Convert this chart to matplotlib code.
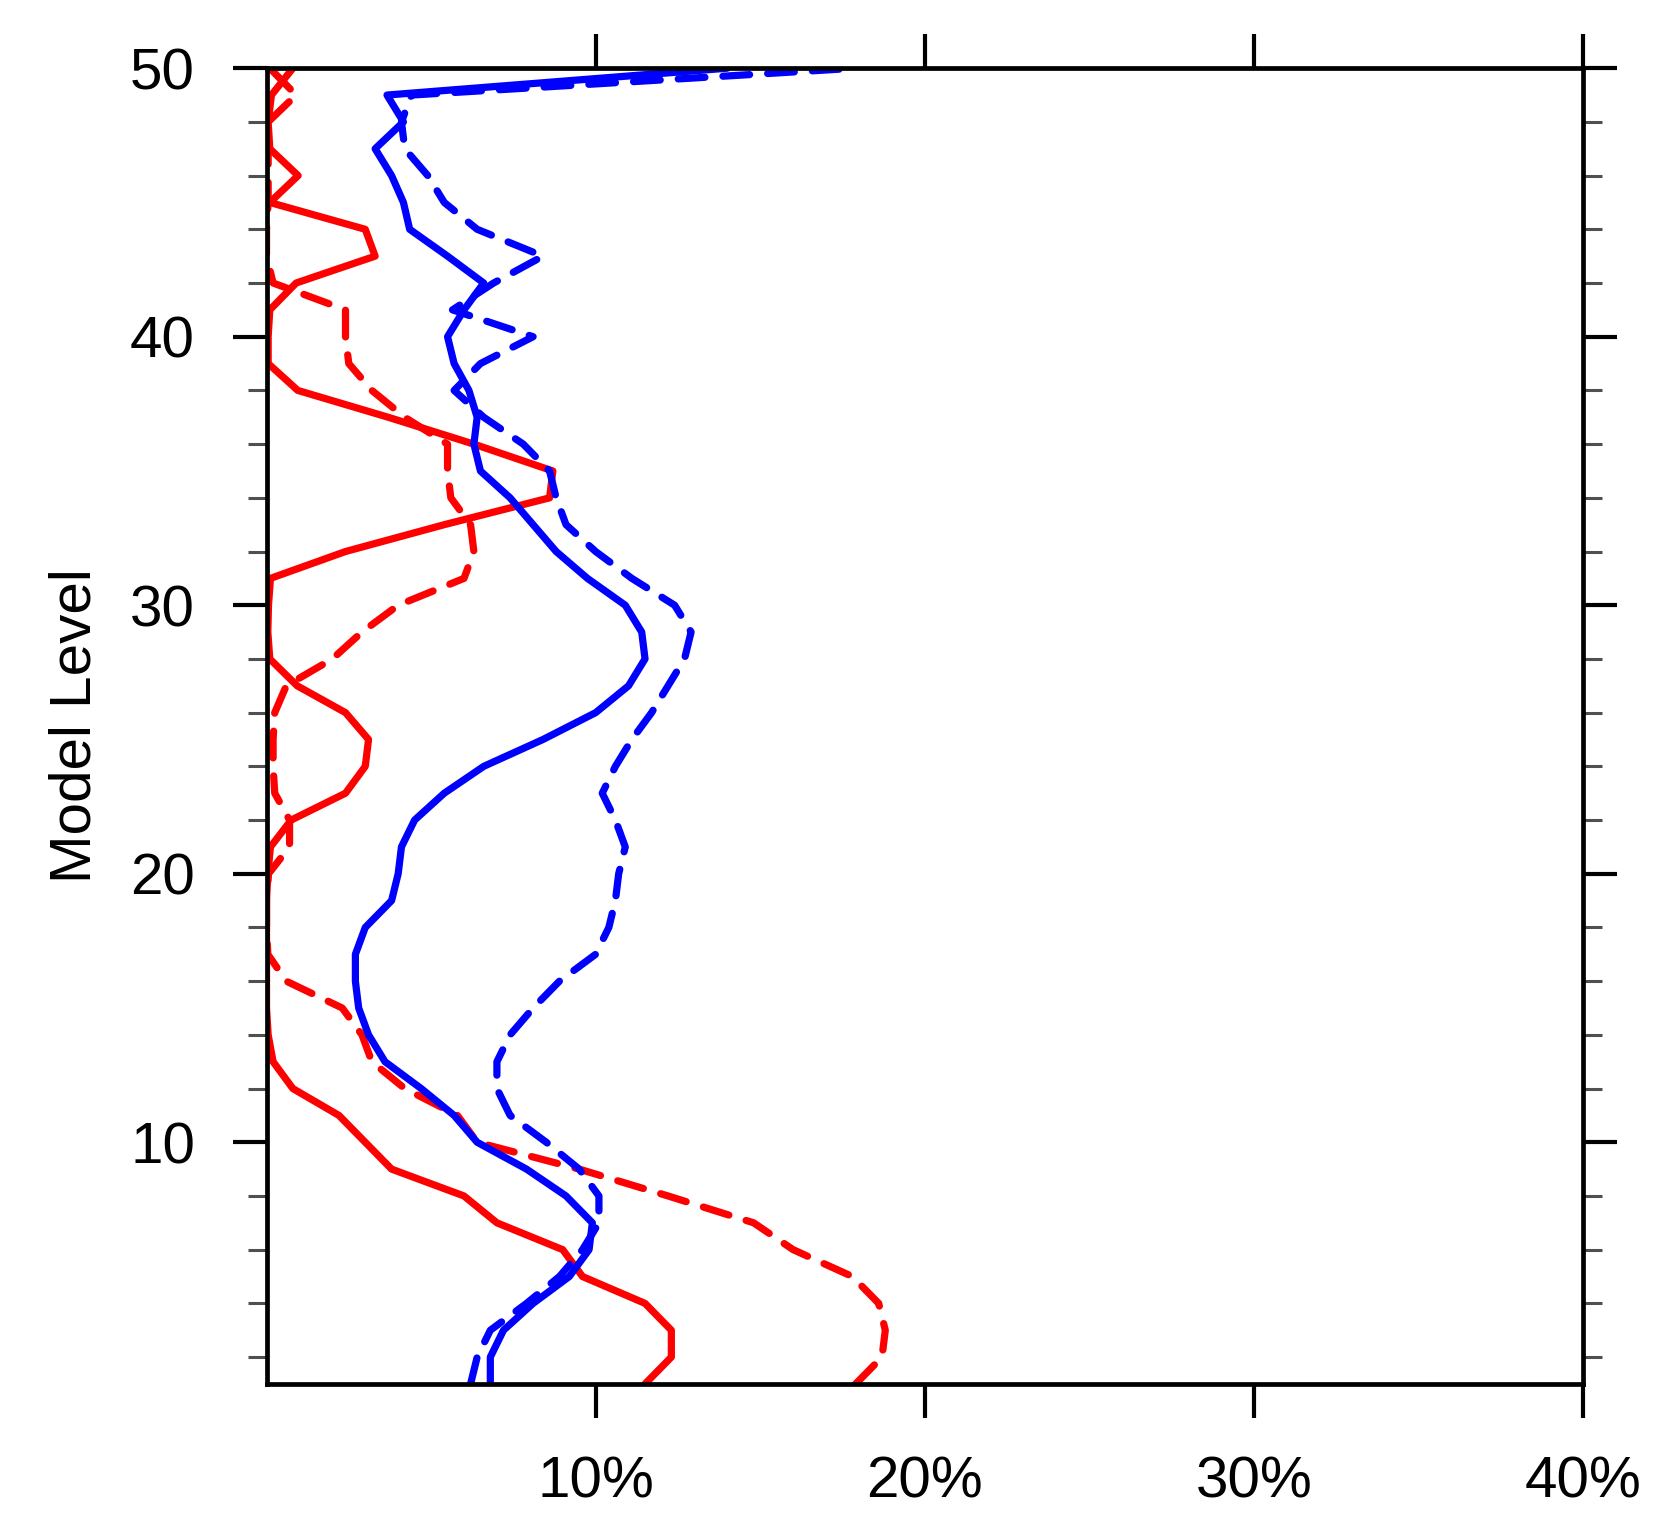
import matplotlib
matplotlib.use("Agg")
import matplotlib.pyplot as plt
import numpy as np

plt.rcParams["font.family"] = ["Liberation Sans", "DejaVu Sans"]

# model levels 1..50 (bottom to top)
levels = list(range(1, 51))

# percentages, level 1 first
red_solid = [11.5, 12.3, 12.3, 11.5, 9.6, 9.0, 7.0, 6.0, 3.8, 3.0,
             2.2, 0.8, 0.2, 0.05, 0.0, 0.0, 0.0, 0.0, 0.0, 0.04,
             0.12, 0.75, 2.4, 3.0, 3.1, 2.4, 0.93, 0.1, 0.04, 0.06,
             0.12, 2.4, 5.4, 8.6, 8.7, 6.3, 3.7, 0.95, 0.05, 0.05,
             0.1, 0.9, 3.3, 3.0, 0.1, 0.96, 0.1, 0.05, 0.15, 0.8]
red_dashed = [17.9, 18.7, 18.8, 18.6, 17.8, 16.0, 14.8, 12.2, 9.5, 6.4,
              5.8, 4.2, 3.2, 2.9, 2.3, 0.6, 0.04, 0.0, 0.0, 0.06,
              0.7, 0.7, 0.25, 0.2, 0.2, 0.25, 0.6, 2.0, 2.9, 4.0,
              6.0, 6.3, 6.2, 5.6, 5.5, 5.5, 4.2, 3.2, 2.5, 2.4,
              2.4, 0.2, 0.0, 0.0, 0.05, 0.05, 0.05, 0.05, 0.9, 0.1]
blue_solid = [6.8, 6.8, 7.2, 8.1, 9.2, 9.8, 9.9, 9.1, 7.9, 6.4,
              5.7, 4.7, 3.6, 3.1, 2.8, 2.7, 2.7, 3.0, 3.8, 4.0,
              4.1, 4.5, 5.4, 6.6, 8.4, 10.0, 11.0, 11.5, 11.4, 10.9,
              9.75, 8.8, 8.1, 7.4, 6.5, 6.3, 6.4, 6.15, 5.7, 5.5,
              6.0, 6.6, 5.5, 4.35, 4.16, 3.8, 3.3, 4.16, 3.66, 14.0]
blue_dashed = [6.2, 6.4, 6.8, 7.9, 8.9, 9.6, 10.1, 10.1, 9.5, 8.5,
               7.4, 7.0, 7.0, 7.4, 8.1, 8.9, 10.0, 10.4, 10.6, 10.7,
               10.9, 10.6, 10.2, 10.6, 11.1, 11.7, 12.2, 12.7, 12.9, 12.4,
               11.1, 10.0, 9.1, 8.8, 8.6, 7.8, 6.6, 5.7, 6.5, 8.1,
               5.65, 6.9, 8.4, 6.4, 5.4, 4.9, 4.2, 4.1, 4.4, 17.9]

x_ticks = [10, 20, 30, 40]
x_labels = ["10%", "20%", "30%", "40%"]
y_ticks = [10, 20, 30, 40, 50]

fig = plt.figure(figsize=(16.72, 15.36), dpi=100)
ax = fig.add_axes([0.1594, 0.099, 0.7874, 0.8566])

dash = (0, (3.7, 2.5))
series = [
    (red_solid, "red", "-"),
    (red_dashed, "red", dash),
    (blue_solid, "blue", "-"),
    (blue_dashed, "blue", dash),
]
for vals, col, ls in series:
    ax.plot(vals, levels, color=col, linestyle=ls, lw=5.2,
            solid_joinstyle="round", solid_capstyle="round",
            dash_joinstyle="round", dash_capstyle="round")

ax.set_xlim(0, 40)
ax.set_ylim(1, 50)
ax.set_xticks(x_ticks)
ax.set_xticklabels(x_labels)
ax.set_yticks(y_ticks)
ax.set_yticks(range(2, 50, 2), minor=True)
ax.xaxis.set_minor_locator(matplotlib.ticker.NullLocator())

for s in ax.spines.values():
    s.set_linewidth(3.4)

ax.tick_params(which="major", direction="out", length=24.5, width=3.0,
               labelsize=42, pad=27, top=True, right=True)
ax.tick_params(which="minor", direction="out", length=13.5, width=2.2,
               color="#505050", left=True, right=True)
ax.set_ylabel("Model Level", fontsize=42, labelpad=20)

fig.savefig("out.png", dpi=100)
